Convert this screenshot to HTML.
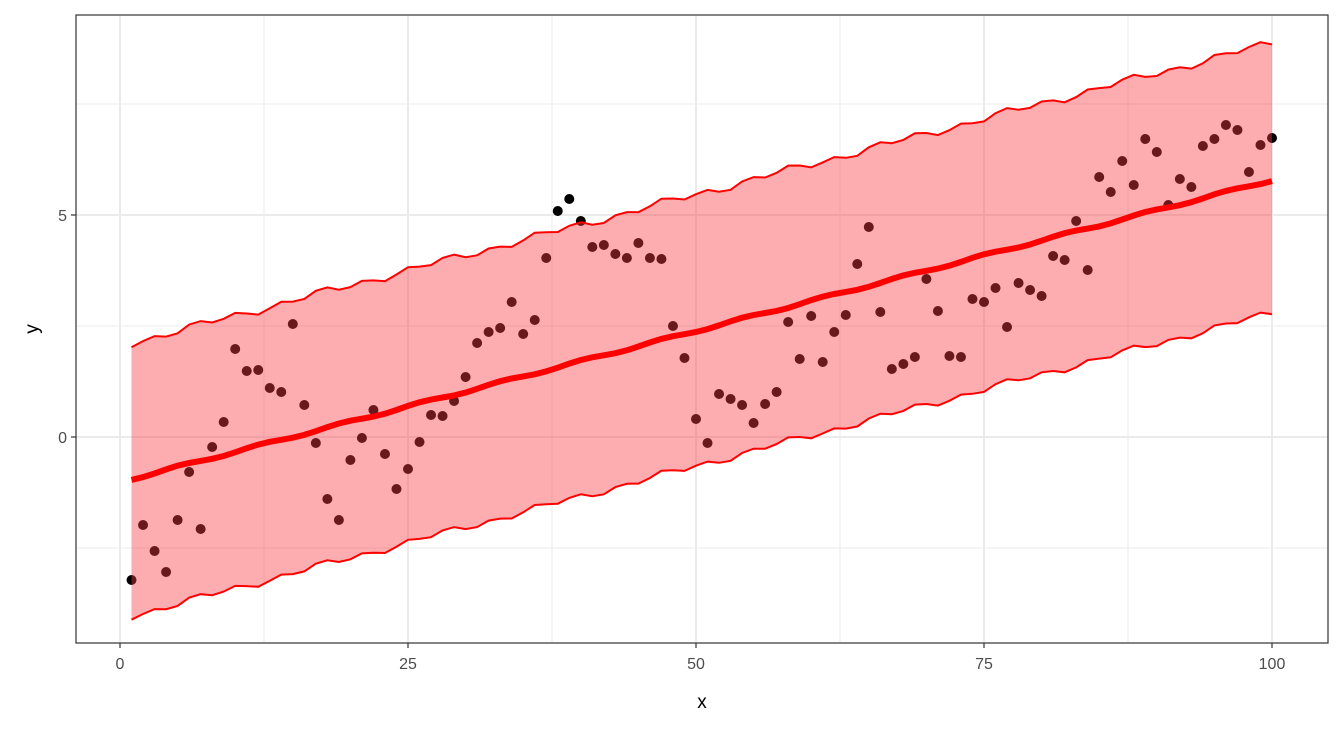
<!DOCTYPE html>
<html><head><meta charset="utf-8"><style>
html,body{margin:0;padding:0;background:#fff;}
svg{display:block;font-family:"Liberation Sans",Arial,sans-serif;}
</style></head><body>
<svg id="s" width="1344" height="729" xmlns="http://www.w3.org/2000/svg"></svg>
<script>
const s=document.getElementById('s');
const L=76,R=1328,T=15,B=643;
const X=v=>120+11.52*v, Y=v=>437-44.4*v;
let h='<rect x="0" y="0" width="1344" height="729" fill="#fff"/>';
[12.5,37.5,62.5,87.5].forEach(v=>h+=`<line x1="${X(v)}" x2="${X(v)}" y1="${T}" y2="${B}" stroke="#ebebeb" stroke-width="1"/>`);
[-2.5,2.5,7.5].forEach(v=>h+=`<line x1="${L}" x2="${R}" y1="${Y(v)}" y2="${Y(v)}" stroke="#ebebeb" stroke-width="1"/>`);
[0,25,50,75,100].forEach(v=>h+=`<line x1="${X(v)}" x2="${X(v)}" y1="${T}" y2="${B}" stroke="#ebebeb" stroke-width="2"/>`);
[0,5].forEach(v=>h+=`<line x1="${L}" x2="${R}" y1="${Y(v)}" y2="${Y(v)}" stroke="#ebebeb" stroke-width="2"/>`);
const py=[580,525,551,572,520,472,529,447,422,349,371,370,388,392,324,405,443,499,520,460,438,410,454,489,469,442,415,416,401,377,343,332,328,302,334,320,258,211,199,221,247,245,254,258,243,258,259,326,358,419,443,394,399,405,423,404,392,322,359,316,362,332,315,264,227,312,369,364,357,279,311,356,357,299,302,288,327,283,290,296,256,260,221,270,177,192,161,185,139,152,205,179,187,146,139,125,130,172,145,138];
py.forEach((y,i)=>h+=`<circle cx="${X(i+1)}" cy="${y}" r="5" fill="#000"/>`);
let up=[],lo=[],fit=[];
for(let i=1;i<=100;i++){
 const t=(i-1)/99;
 const n=Math.sin(i*1.7)*3+Math.sin(i*0.63)*2;
 const f=479-299*t+Math.sin(i*0.9)*1.2;
 fit.push([X(i),f]);
 up.push([X(i),343-300*t+n]);
 lo.push([X(i),616-303*t+n*0.9]);
}
const pts=a=>a.map(p=>p[0].toFixed(1)+','+p[1].toFixed(1)).join(' ');
h+=`<polygon points="${pts(up)} ${pts(lo.slice().reverse())}" fill="rgba(250,60,65,0.42)" stroke="none"/>`;
h+=`<polyline points="${pts(up)}" fill="none" stroke="#ff0000" stroke-width="2"/>`;
h+=`<polyline points="${pts(lo)}" fill="none" stroke="#ff0000" stroke-width="2"/>`;
h+=`<polyline points="${pts(fit)}" fill="none" stroke="#ff0000" stroke-width="6"/>`;
h+=`<rect x="${L}" y="${T}" width="${R-L}" height="${B-T}" fill="none" stroke="#333" stroke-width="1.2"/>`;
[0,25,50,75,100].forEach(v=>{h+=`<line x1="${X(v)}" x2="${X(v)}" y1="${B}" y2="${B+5}" stroke="#333" stroke-width="1.2"/><text x="${X(v)}" y="669" font-size="16" fill="#4d4d4d" text-anchor="middle">${v}</text>`;});
[0,5].forEach(v=>{h+=`<line x1="${L-5}" x2="${L}" y1="${Y(v)}" y2="${Y(v)}" stroke="#333" stroke-width="1.2"/><text x="67" y="${Y(v)+6}" font-size="16" fill="#4d4d4d" text-anchor="end">${v}</text>`;});
h+=`<text x="702" y="708" font-size="19" fill="#000" text-anchor="middle">x</text>`;
h+=`<text transform="translate(38,329) rotate(-90)" font-size="19" fill="#000" text-anchor="middle">y</text>`;
s.innerHTML=h;
</script>
</body></html>
